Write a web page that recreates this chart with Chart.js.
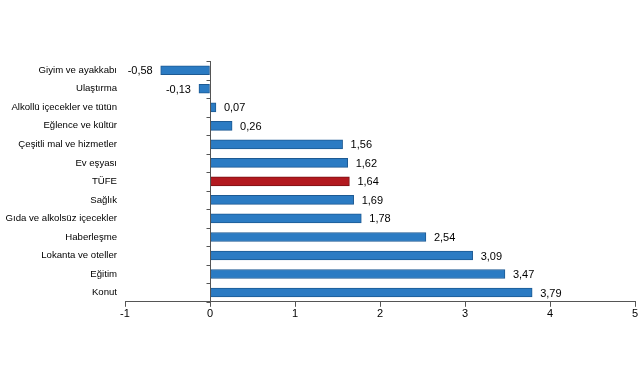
<!DOCTYPE html>
<html>
<head>
<meta charset="utf-8">
<script src="https://cdn.jsdelivr.net/npm/chart.js@4/dist/chart.umd.min.js"></script>
<style>
html,body{margin:0;padding:0;background:#fff;}
#wrap{width:641px;height:380px;position:relative;}
</style>
</head>
<body>
<div id="wrap"><canvas id="c" width="641" height="380"></canvas></div>
<script>
const categories = ["Giyim ve ayakkabı","Ulaştırma","Alkollü içecekler ve tütün","Eğlence ve kültür","Çeşitli mal ve hizmetler","Ev eşyası","TÜFE","Sağlık","Gıda ve alkolsüz içecekler","Haberleşme","Lokanta ve oteller","Eğitim","Konut"];
const values = [-0.58,-0.13,0.07,0.26,1.56,1.62,1.64,1.69,1.78,2.54,3.09,3.47,3.79];
const highlight = "TÜFE";
const xTicks = [-1,0,1,2,3,4,5];

const blue = "#2b7bc3", blueBorder = "#1d5a93";
const red = "#b2191f", redBorder = "#7a1014";
const fontFam = "'Liberation Sans', Arial, sans-serif";

const valueLabels = {
  id: 'valueLabels',
  afterDatasetsDraw(chart) {
    const ctx = chart.ctx;
    const meta = chart.getDatasetMeta(0);
    const xs = chart.scales.x;
    ctx.save();
    ctx.font = "11px " + fontFam;
    ctx.fillStyle = "#000";
    ctx.textBaseline = "middle";
    meta.data.forEach((bar, i) => {
      const v = values[i];
      const txt = v.toFixed(2).replace('.', ',');
      const xEnd = xs.getPixelForValue(v);
      if (v < 0) { ctx.textAlign = "right"; ctx.fillText(txt, xEnd - 8, bar.y + 1); }
      else { ctx.textAlign = "left"; ctx.fillText(txt, xEnd + 8, bar.y + 1); }
    });
    ctx.restore();
  }
};

const zeroAxis = {
  id: 'zeroAxis',
  afterDatasetsDraw(chart) {
    const ctx = chart.ctx;
    const xs = chart.scales.x, ys = chart.scales.y;
    const x0 = Math.round(xs.getPixelForValue(0)) + 0.5;
    ctx.save();
    ctx.strokeStyle = "#555";
    ctx.lineWidth = 1;
    ctx.beginPath();
    ctx.moveTo(x0, ys.top);
    ctx.lineTo(x0, ys.bottom);
    const n = categories.length;
    for (let i = 0; i <= n; i++) {
      const y = Math.round(ys.getPixelForValue(i - 0.5)) + 0.5;
      ctx.moveTo(x0 - 4, y);
      ctx.lineTo(x0, y);
    }
    ctx.stroke();
    ctx.restore();
  }
};

new Chart(document.getElementById('c'), {
  type: 'bar',
  data: {
    labels: categories,
    datasets: [{
      data: values,
      backgroundColor: categories.map(c => c === highlight ? red : blue),
      borderColor: categories.map(c => c === highlight ? redBorder : blueBorder),
      borderWidth: 1,
      borderSkipped: false,
      barThickness: 9
    }]
  },
  options: {
    indexAxis: 'y',
    responsive: false,
    animation: false,
    devicePixelRatio: 1,
    layout: { padding: { top: 61, right: 6, bottom: 58, left: 0 } },
    plugins: { legend: { display: false }, tooltip: { enabled: false } },
    scales: {
      x: {
        min: -1, max: 5,
        afterBuildTicks(scale) { scale.ticks = xTicks.map(v => ({ value: v })); },
        grid: { drawOnChartArea: false, tickLength: 5, color: "#555", tickColor: "#555" },
        border: { display: true, color: "#555" },
        ticks: { color: "#000", font: { size: 11, family: fontFam }, padding: 1,
                 callback: v => String(v) }
      },
      y: {
        grid: { display: false, drawTicks: false },
        border: { display: false },
        ticks: { color: "#000", font: { size: 9.6, family: fontFam }, padding: 8, autoSkip: false },
        afterFit(scale) { scale.width = 125; }
      }
    }
  },
  plugins: [zeroAxis, valueLabels]
});
</script>
</body>
</html>
